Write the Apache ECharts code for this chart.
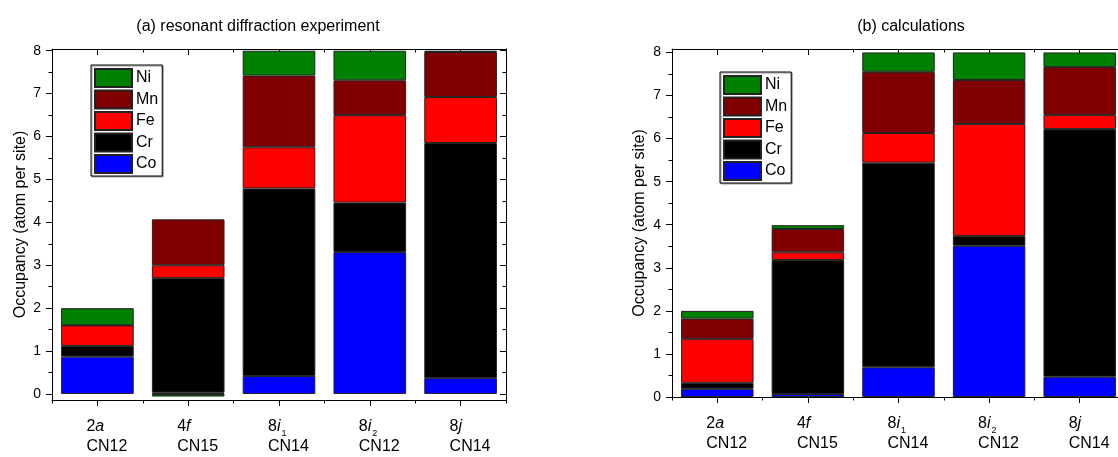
<!DOCTYPE html>
<html>
<head>
<meta charset="utf-8">
<script src="https://cdn.jsdelivr.net/npm/echarts@6/dist/echarts.min.js"></script>
<style>
html,body{margin:0;padding:0;background:#fff;}
#chart{width:1118px;height:457px;}
</style>
</head>
<body>
<div id="chart"></div>
<script>
// ---- data ----
const categories = ['2a', '4f', '8i1', '8i2', '8j'];
const cnLabels = ['CN12', 'CN15', 'CN14', 'CN12', 'CN14'];
const elements = ['Co', 'Cr', 'Fe', 'Mn', 'Ni'];           // stacking order, bottom -> top
const legendOrder = ['Ni', 'Mn', 'Fe', 'Cr', 'Co'];
const titleA = '(a) resonant diffraction experiment';
const titleB = '(b) calculations';
const yName = 'Occupancy (atom per site)';
const yTicks = [0, 1, 2, 3, 4, 5, 6, 7, 8];
const yMinorTicks = [0.5, 1.5, 2.5, 3.5, 4.5, 5.5, 6.5, 7.5];

// (a) resonant diffraction experiment
const expCo = [0.87, 0.03, 0.42, 3.31, 0.37];
const expCr = [0.25, 2.67, 4.37, 1.15, 5.48];
const expFe = [0.48, 0.30, 0.96, 2.04, 1.07];
const expMn = [0.00, 1.07, 1.67, 0.81, 1.05];
const expNi = [0.40, -0.06, 0.58, 0.69, 0.03];

// (b) calculations
const calCo = [0.19, 0.07, 0.69, 3.51, 0.47];
const calCr = [0.14, 3.11, 4.75, 0.23, 5.75];
const calFe = [1.02, 0.18, 0.69, 2.60, 0.33];
const calMn = [0.47, 0.54, 1.42, 1.02, 1.11];
const calNi = [0.18, 0.09, 0.45, 0.64, 0.34];

const colors = { Co: '#0000ff', Cr: '#000000', Fe: '#ff0000', Mn: '#800000', Ni: '#008000' };
const FONT = 'Liberation Sans, Arial, sans-serif';

const expData = { Co: expCo, Cr: expCr, Fe: expFe, Mn: expMn, Ni: expNi };
const calData = { Co: calCo, Cr: calCr, Fe: calFe, Mn: calMn, Ni: calNi };

function labelFmt(value, idx) {
  const c = categories[idx];
  const digit = c[0], letter = c[1], sub = c.slice(2);
  return '{n|' + digit + '}{it|' + letter + '}' + (sub ? '{sb|' + sub + '}' : '') + '\n{n|' + cnLabels[idx] + '}';
}
const rich = {
  n: { fontSize: 16, fontFamily: FONT, color: '#000', align: 'left', lineHeight: 20 },
  it: { fontSize: 16, fontFamily: FONT, color: '#000', fontStyle: 'italic', align: 'left', lineHeight: 20 },
  sb: { fontSize: 9, fontFamily: FONT, color: '#000', align: 'left', lineHeight: 10, padding: [14, 0, 0, 1] }
};

const lineStyle = { color: '#000', width: 1 };

function xAxes(gi) {
  return [
    { gridIndex: gi, type: 'category', data: categories, position: 'bottom',
      axisLine: { show: true, onZero: false, lineStyle },
      axisTick: { show: true, alignWithLabel: true, inside: false, length: 6, lineStyle },
      axisLabel: { show: true, interval: 0, margin: 17, align: 'center', width: 22, overflow: 'none',
                   formatter: labelFmt, rich: rich, color: '#000' },
      splitLine: { show: false } },
    { gridIndex: gi, type: 'category', data: categories, position: 'bottom',
      axisLine: { show: false, onZero: false },
      axisTick: { show: true, interval: 0, inside: false, length: 3.5, lineStyle },
      axisLabel: { show: false }, splitLine: { show: false } },
    { gridIndex: gi, type: 'category', data: categories, position: 'top',
      axisLine: { show: true, onZero: false, lineStyle },
      axisTick: { show: true, alignWithLabel: true, inside: true, length: 6, lineStyle },
      axisLabel: { show: false }, splitLine: { show: false } },
    { gridIndex: gi, type: 'category', data: categories, position: 'top',
      axisLine: { show: false, onZero: false },
      axisTick: { show: true, interval: 0, inside: true, length: 3.5, lineStyle },
      axisLabel: { show: false }, splitLine: { show: false } }
  ];
}

function yAxes(gi, min, max, nameGap) {
  return [
    { gridIndex: gi, type: 'value', min, max, position: 'left',
      name: yName, nameLocation: 'middle', nameGap: nameGap, nameRotate: 90,
      nameTextStyle: { fontSize: 16, fontFamily: FONT, color: '#000' },
      axisLine: { show: true, onZero: false, lineStyle },
      axisTick: { show: true, inside: false, length: 6, customValues: yTicks, lineStyle },
      axisLabel: { show: true, customValues: yTicks, fontSize: 14, fontFamily: FONT, color: '#000', margin: 11 },
      splitLine: { show: false } },
    { gridIndex: gi, type: 'value', min, max, position: 'left',
      axisLine: { show: false, onZero: false },
      axisTick: { show: true, inside: false, length: 3.5, customValues: yMinorTicks, lineStyle },
      axisLabel: { show: false }, splitLine: { show: false } },
    { gridIndex: gi, type: 'value', min, max, position: 'right',
      axisLine: { show: true, onZero: false, lineStyle },
      axisTick: { show: true, inside: true, length: 6, customValues: yTicks, lineStyle },
      axisLabel: { show: false }, splitLine: { show: false } },
    { gridIndex: gi, type: 'value', min, max, position: 'right',
      axisLine: { show: false, onZero: false },
      axisTick: { show: true, inside: true, length: 3.5, customValues: yMinorTicks, lineStyle },
      axisLabel: { show: false }, splitLine: { show: false } }
  ];
}

function seriesFor(gi, data, stack) {
  return elements.map(el => ({
    name: el, type: 'bar', stack: stack, xAxisIndex: gi * 4, yAxisIndex: gi * 4,
    barWidth: '80%', data: data[el],
    itemStyle: { color: colors[el], borderColor: '#222', borderWidth: 1 },
    emphasis: { disabled: true }
  }));
}

function legendAt(left, top) {
  return {
    data: legendOrder, orient: 'vertical', left: left, top: top,
    itemWidth: 37, itemHeight: 18, itemGap: 1.5, padding: [3, 4, 2, 3],
    icon: 'rect', selectedMode: false,
    borderColor: '#000', borderWidth: 1, backgroundColor: '#fff',
    shadowColor: '#999', shadowOffsetX: 1, shadowOffsetY: 1, shadowBlur: 0,
    textStyle: { fontSize: 16, lineHeight: 18, fontFamily: FONT, color: '#000', padding: [0, 0, 0, -1] }
  };
}

const chart = echarts.init(document.getElementById('chart'), null, { renderer: 'canvas' });
chart.setOption({
  animation: false,
  backgroundColor: '#fff',
  textStyle: { fontFamily: FONT },
  title: [
    { text: titleA, left: 253, top: 14, textAlign: 'center',
      textStyle: { fontSize: 16, fontWeight: 'normal', fontFamily: FONT, color: '#000' } },
    { text: titleB, left: 906, top: 14, textAlign: 'center',
      textStyle: { fontSize: 16, fontWeight: 'normal', fontFamily: FONT, color: '#000' } }
  ],
  legend: [legendAt(91, 65), legendAt(720, 72)],
  grid: [
    { left: 52, top: 49, width: 454, height: 351, containLabel: false, outerBoundsMode: 'none' },
    { left: 672, top: 49, width: 453, height: 348, containLabel: false, outerBoundsMode: 'none' }
  ],
  xAxis: [].concat(xAxes(0), xAxes(1)),
  yAxis: [].concat(yAxes(0, -0.14, 8.04, 23), yAxes(1, 0, 8.08, 24)),
  series: [].concat(seriesFor(0, expData, 'exp'), seriesFor(1, calData, 'cal'))
});
</script>
</body>
</html>
